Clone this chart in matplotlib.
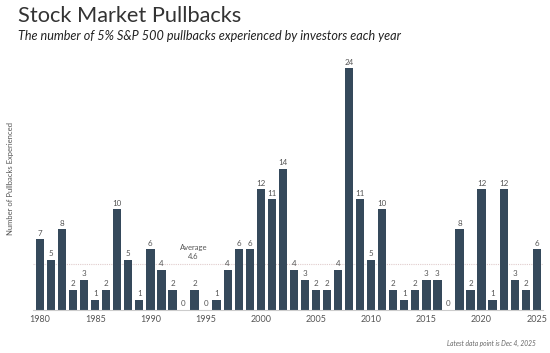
import matplotlib.pyplot as plt

years = list(range(1980, 2026))
pullbacks = [7, 5, 8, 2, 3, 1, 2, 10, 5, 1,
             6, 4, 2, 0, 2, 0, 1, 4, 6, 6,
             12, 11, 14, 4, 3, 2, 2, 4, 24, 11,
             5, 10, 2, 1, 2, 3, 3, 0, 8, 2,
             12, 1, 12, 3, 2, 6]
average = 4.6
tick_years = list(range(1980, 2026, 5))

plt.rcParams['font.family'] = ['Lato', 'DejaVu Sans']

fig = plt.figure(figsize=(5.5, 3.53), dpi=100)
ax = fig.add_axes([0.06, 0.122, 0.927, 0.742])

bar_color = '#35495b'
ax.bar(years, pullbacks, width=0.75, color=bar_color, zorder=2)

for x, v in zip(years, pullbacks):
    ax.text(x, v + 0.25, str(v), ha='center', va='bottom', fontsize=5.8, color='#555555')

ax.axhline(average, color='#e0cccc', linestyle=(0, (1, 1)), linewidth=0.8, zorder=1)
ax.text(1993.9, average + 0.4, 'Average\n4.6', ha='center', va='bottom',
        fontsize=5.5, color='#555555', linespacing=1.3)

ax.set_xlim(1979.37, 2025.55)
ax.set_ylim(0, 26)
ax.set_xticks(tick_years)
ax.set_xticklabels([str(y) for y in tick_years], fontsize=6.5, color='#555555')
ax.tick_params(axis='x', length=0, pad=4)
ax.set_yticks([])
for s in ['top', 'right', 'left']:
    ax.spines[s].set_visible(False)
ax.spines['bottom'].set_color('#cccccc')
ax.spines['bottom'].set_linewidth(0.8)

ax.set_ylabel('Number of Pullbacks Experienced', fontsize=5.5, color='#555555', labelpad=14)

fig.text(0.033, 0.955, 'Stock Market Pullbacks', fontsize=15.7, color='#333333', va='center')
fig.text(0.033, 0.897, 'The number of 5% S&P 500 pullbacks experienced by investors each year',
         fontsize=9.1, style='italic', color='#222222', va='center')
fig.text(0.975, 0.028, 'Latest data point is Dec 4, 2025', fontsize=4.8, style='italic',
         color='#666666', ha='right', va='center')

fig.savefig('out.png', dpi=100)
